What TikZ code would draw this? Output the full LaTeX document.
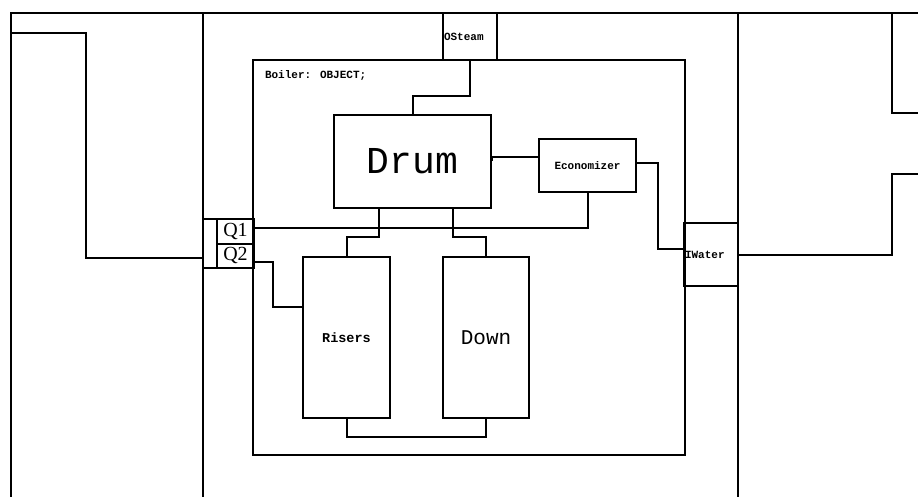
\documentclass[tikz,border=0pt]{standalone}
\usepackage{fontspec}
\setmainfont{Liberation Serif}
\newfontfamily\codefont{Liberation Mono}

\begin{document}
\begin{tikzpicture}[x=1pt, y=-1pt, line width=2pt,
  blk/.style={draw, rectangle, inner sep=0pt},
  small/.style={font=\codefont\bfseries\fontsize{11}{12}\selectfont, inner sep=1pt}]
  \useasboundingbox (0,0) rectangle (918,497);
  % frame
  \draw (10,13) -- (918,13);
  \draw (11,13) -- (11,497);
  \draw (203,13) -- (203,497);
  \draw (738,13) -- (738,497);
  \coordinate (topR) at (918,113);
  \draw (892,13) |- (topR);
  % boxes
  \node[blk, minimum width=432pt, minimum height=395pt,
    label={[small, anchor=north west, xshift=11pt, yshift=-10pt]north west:Boiler: OBJECT;}] (boiler) at (469,257.5) {};
  \node[blk, minimum width=54pt, minimum height=47pt,
    label={[small, anchor=west]west:OSteam}] (osteam) at (470,36.5) {};
  \node[blk, minimum width=54pt, minimum height=63pt,
    label={[small, anchor=west]west:IWater}] (iwater) at (711,254.5) {};
  \node[blk, minimum width=157pt, minimum height=93pt,
    font=\codefont\fontsize{38}{38}\selectfont] (drum) at (412.5,161.5) {Drum};
  \node[blk, minimum width=97pt, minimum height=53pt, small] (econ) at (587.5,165.5) {Economizer};
  \node[blk, minimum width=87pt, minimum height=161pt,
    font=\codefont\bfseries\fontsize{13.5}{14}\selectfont] (risers) at (346.5,337.5) {Risers};
  \node[blk, minimum width=86pt, minimum height=161pt,
    font=\codefont\fontsize{21}{21}\selectfont] (down) at (486,337.5) {Down};
  \node[blk, minimum width=51pt, minimum height=49pt] (qbox) at (228.5,243.5) {};
  \node[blk, minimum width=37pt, minimum height=24.5pt,
    font=\fontsize{20}{20}\selectfont] (q1) at (235.5,231.25) {Q1};
  \node[blk, minimum width=37pt, minimum height=24.5pt,
    font=\fontsize{20}{20}\selectfont] (q2) at (235.5,255.75) {Q2};
  % connections
  \draw (osteam.south) -- ++(0,35) -| (drum.north);
  \draw ([yshift=8pt]econ.west) -| (drum.east);
  \draw ([yshift=2pt]econ.east) -- ++(21,0) |- ([yshift=6pt]iwater.west);
  \draw (econ.south) |- ([yshift=3pt]q1.east);
  \draw ([xshift=-34pt]drum.south) -- ++(0,28) -| (risers.north);
  \draw ([xshift=40pt]drum.south) -- ++(0,28) -| (down.north);
  \draw (risers.south) -- ++(0,18) -| (down.south);
  \draw ([yshift=-6pt]q2.east) -- ++(18,0) |- ([yshift=31pt]risers.west);
  \coordinate (inL) at (11,33);
  \draw (inL) -| ([xshift=-116pt, yshift=-14.5pt]qbox.west) -- ([yshift=-14.5pt]qbox.west);
  \coordinate (outR) at (918,174);
  \draw (iwater.east) -| ([xshift=-26pt]outR) -- (outR);
\end{tikzpicture}
\end{document}
